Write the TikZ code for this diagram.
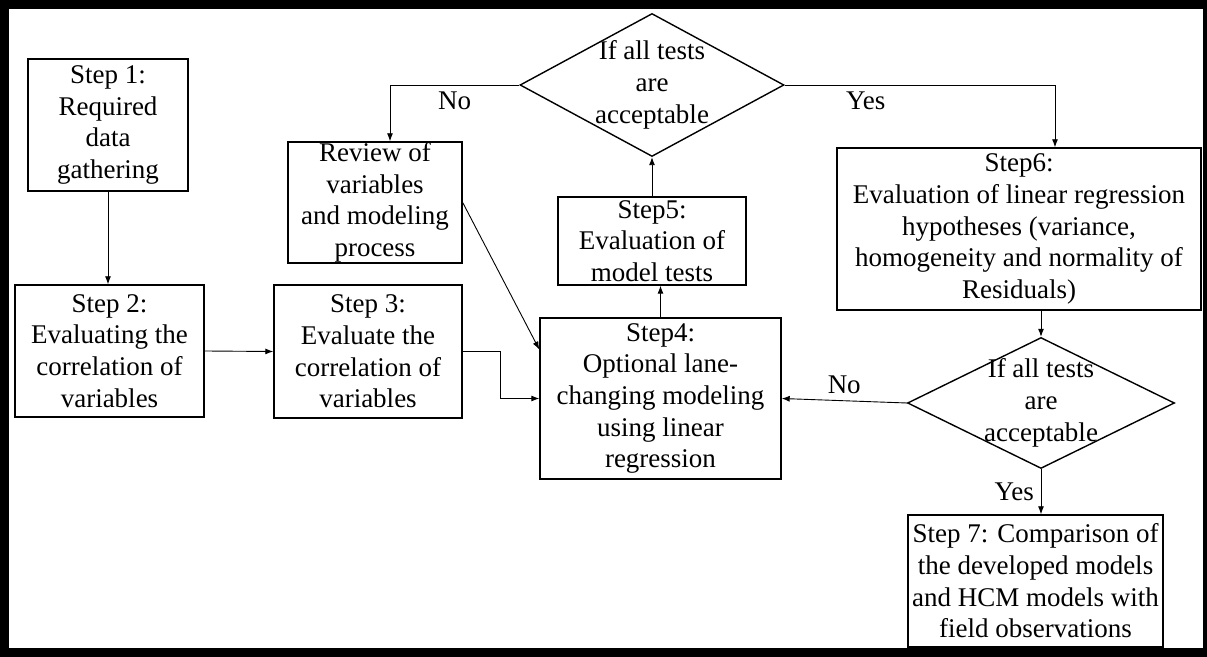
\documentclass[tikz,border=0pt]{standalone}
\usepackage{fontspec}
\setmainfont{Liberation Serif}
\usetikzlibrary{shapes.geometric,arrows.meta}
\tikzset{
  stepbox/.style={draw,line width=0.7pt,align=center,inner sep=0pt},
  decision/.style={diamond,draw,line width=0.7pt,inner sep=0pt},
  flow/.style={line width=0.45pt,-{Latex[length=4pt,width=3pt]}}
}
\begin{document}
\begin{tikzpicture}[x=0.5pt,y=-0.5pt,font=\fontsize{13.5}{15.85}\selectfont]
 % frame
 \fill[black] (0,0) rectangle (1207,657);
 \fill[white] (9,9) rectangle (1203,648);
 % steps
 \node[stepbox,minimum width=80pt,minimum height=66pt] (s1) at (108,125) {Step 1:\\Required\\data\\gathering};
 \node[stepbox,minimum width=94.5pt,minimum height=66pt] (s2) at (109.5,351) {Step 2:\\Evaluating the\\correlation of\\variables};
 \node[stepbox,minimum width=94pt,minimum height=66.5pt] (s3) at (368,351.5) {Step 3:\\Evaluate the\\correlation of\\variables};
 \node[stepbox,minimum width=87pt,minimum height=60.5pt] (rev) at (375,202.5) {Review of\\variables\\and modeling\\process};
 \node[stepbox,minimum width=94pt,minimum height=44pt] (s5) at (652,241) {Step5:\\Evaluation of\\model tests};
 \node[stepbox,minimum width=120.5pt,minimum height=80.5pt] (s4) at (660.5,398.5) {Step4:\\Optional lane-\\changing modeling\\using linear\\regression};
 \node[stepbox,minimum width=182pt,minimum height=81pt] (s6) at (1019,229) {Step6:\\Evaluation of linear regression\\hypotheses (variance,\\homogeneity and normality of\\Residuals)};
 \node[stepbox,minimum width=127.5pt,minimum height=66pt] (s7) at (1035.5,581) {Step 7: Comparison of\\the developed models\\and HCM models with\\field observations};
 % decisions
 \node[decision,minimum width=132pt,minimum height=71.5pt,label={[align=center]center:If all tests\\are\\acceptable}] (d1) at (652,85) {};
 \node[decision,minimum width=133.5pt,minimum height=65.5pt,label={[align=center]center:If all tests\\are\\acceptable}] (d2) at (1041,403) {};
 % arrows
 \draw[flow] (s1.south) -- (s1.south |- s2.north);
 \draw[flow] (s2.east) -- (s3.west);
 \draw[flow] (s3.east) -- ++(38,0) |- (s4.west);
 \draw[flow] (rev.east) -- (s4.158);
 \draw[flow] (s4.north) -- (s4.north |- s5.south);
 \draw[flow] (s5.north) -- (d1.south);
 \draw[flow] (d1.west) -| ([xshift=7.5pt]rev.north) node[pos=0.25,below] {No};
 \draw[flow] (d1.east) -| ([xshift=18pt]s6.north) node[pos=0.15,below] {Yes};
 \draw[flow] ([xshift=11pt]s6.south) -- (d2.north);
 \draw[flow] (d2.west) -- (s4.east) node[midway,above] {No};
 \draw[flow] (d2.south) -- (d2.south |- s7.north) node[midway,left] {Yes};
\end{tikzpicture}
\end{document}
